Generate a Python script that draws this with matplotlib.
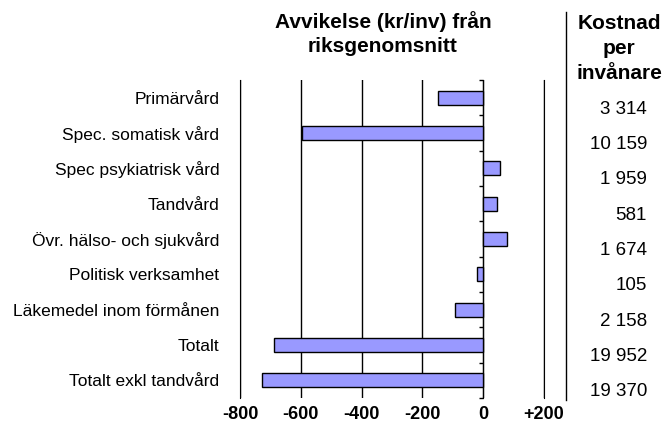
import numpy as np
import matplotlib.pyplot as plt
from matplotlib.lines import Line2D
from matplotlib.ticker import FuncFormatter
from matplotlib.transforms import blended_transform_factory

plt.rcParams['font.family'] = ['Liberation Sans', 'DejaVu Sans']

categories = ['Primärvård', 'Spec. somatisk vård', 'Spec psykiatrisk vård', 'Tandvård',
              'Övr. hälso- och sjukvård', 'Politisk verksamhet', 'Läkemedel inom förmånen',
              'Totalt', 'Totalt exkl tandvård']
deviation = [-148, -595, 54, 45, 78, -21, -93, -689, -729]
cost_labels = ['3 314', '10 159', '1 959', '581', '1 674', '105', '2 158', '19 952', '19 370']

fig = plt.figure(figsize=(6.66, 4.29), dpi=100)
ax = fig.add_axes([240 / 666, 1 - 398 / 429, 304 / 666, 318 / 429])

y = np.arange(len(categories))
ax.barh(y, deviation, height=0.4, color='#9999FF', edgecolor='black', linewidth=1, zorder=3)

ax.set_xlim(-800, 200)
ax.set_ylim(len(categories) - 0.5, -0.5)
ax.set_xticks([-800, -600, -400, -200, 0, 200])
ax.xaxis.set_major_formatter(FuncFormatter(lambda v, p: f'+{v:.0f}' if v > 0 else f'{v:.0f}'))
ax.tick_params(axis='x', length=0, labelsize=13, pad=6)
for lbl in ax.get_xticklabels():
    lbl.set_fontweight('bold')
ax.grid(axis='x', color='black', linewidth=1, zorder=1)

ax.set_yticks(y, categories)
ax.tick_params(axis='y', length=0, labelsize=12.5, pad=15)

for s in ['top', 'bottom']:
    ax.spines[s].set_visible(False)

# zero line with small ticks between the categories
zero_ax = ax.secondary_yaxis(0, transform=ax.transData)
zero_ax.set_yticks(np.arange(len(categories) + 1) - 0.5)
zero_ax.set_yticklabels([])
zero_ax.tick_params(length=3, width=1, direction='out')

# cost column
trans = blended_transform_factory(fig.transFigure, ax.transData)
for i, c in enumerate(cost_labels):
    ax.text(647 / 666, i + 0.33, c, transform=trans, ha='right', va='center', fontsize=13.5)

fig.text(0.575, 0.922, 'Avvikelse (kr/inv) från\nriksgenomsnitt', ha='center', va='center',
         fontsize=15, fontweight='bold', linespacing=1.35)
fig.text(0.930, 0.888, 'Kostnad\nper\ninvånare', ha='center', va='center',
         fontsize=15, fontweight='bold', linespacing=1.4)
fig.add_artist(Line2D([566 / 666, 566 / 666], [1 - 12 / 429, 1 - 400 / 429], color='black', linewidth=1))

plt.savefig('out.png')
